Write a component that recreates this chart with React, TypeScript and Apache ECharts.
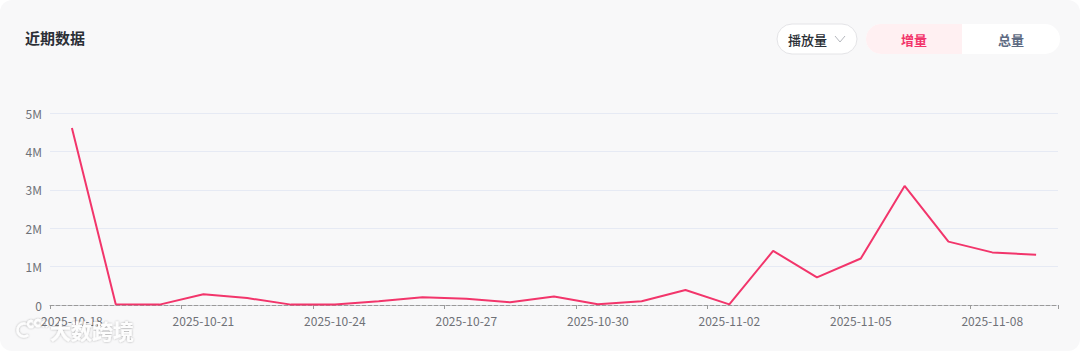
import React, { useEffect, useRef } from "react";
import * as echarts from "echarts";

const categories = [
  "2025-10-18", "2025-10-19", "2025-10-20", "2025-10-21", "2025-10-22", "2025-10-23",
  "2025-10-24", "2025-10-25", "2025-10-26", "2025-10-27", "2025-10-28", "2025-10-29",
  "2025-10-30", "2025-10-31", "2025-11-01", "2025-11-02", "2025-11-03", "2025-11-04",
  "2025-11-05", "2025-11-06", "2025-11-07", "2025-11-08", "2025-11-09",
];
const playIncrement = [
  4610000, 20000, 10000, 280000, 180000, 10000,
  10000, 100000, 200000, 160000, 70000, 220000,
  20000, 100000, 390000, 15000, 1410000, 720000,
  1210000, 3100000, 1650000, 1370000, 1310000,
];
const yTicks = { min: 0, max: 5000000, interval: 1000000 };
const title = "近期数据";
const metricLabel = "播放量";
const toggleLabels = ["增量", "总量"];
const watermark = "大数跨境";

const FONT = "'PingFang SC','Noto Sans CJK SC','Noto Sans',sans-serif";

const wmStroke = {
  stroke: "rgba(255,255,255,0.95)",
  lineWidth: 2.4,
  fill: null as any,
  shadowColor: "rgba(0,0,0,0.35)",
  shadowBlur: 2,
};

export default function App() {
  const ref = useRef<HTMLDivElement>(null);
  useEffect(() => {
    if (!ref.current) return;
    const chart = echarts.init(ref.current, undefined, { renderer: "svg" });
    chart.setOption({
      animation: false,
      backgroundColor: "#ffffff",
      textStyle: { fontFamily: FONT },
      grid: { left: 50, right: 22, top: 113, bottom: 46 },
      xAxis: {
        type: "category",
        data: categories,
        boundaryGap: true,
        axisLine: { lineStyle: { color: "#9a9a9a", type: "dashed", width: 1 } },
        axisTick: { show: true, interval: 2, length: 4, lineStyle: { color: "#9a9a9a" } },
        axisLabel: { interval: 2, color: "#6f7177", fontSize: 12, margin: 9, fontFamily: FONT },
        splitLine: { show: false },
      },
      yAxis: {
        type: "value",
        min: yTicks.min,
        max: yTicks.max,
        interval: yTicks.interval,
        axisLine: { show: false },
        axisTick: { show: false },
        axisLabel: {
          color: "#6f7177",
          fontSize: 12,
          margin: 8,
          fontFamily: FONT,
          formatter: (v: number) => (v === 0 ? "0" : v / 1000000 + "M"),
        },
        splitLine: { lineStyle: { color: "#e6eaf4", width: 1 } },
      },
      series: [
        {
          type: "line",
          data: playIncrement,
          symbol: "none",
          lineStyle: { color: "#f2356b", width: 2 },
          itemStyle: { color: "#f2356b" },
          z: 3,
        },
      ],
      graphic: [
        {
          type: "rect",
          z: -10,
          silent: true,
          shape: { x: 0, y: 0, width: 1080, height: 351, r: 12 },
          style: { fill: "#f8f8f9" },
        },
        {
          type: "text",
          left: 25,
          top: 30,
          style: { text: title, fill: "#2b2f36", font: `600 15px ${FONT}` },
        },
        {
          type: "rect",
          shape: { x: 777, y: 24, width: 80, height: 30, r: 15 },
          style: { fill: "#ffffff", stroke: "#e4e4e7", lineWidth: 1 },
        },
        {
          type: "text",
          x: 788,
          y: 39,
          style: { text: metricLabel, fill: "#2b2f36", font: `500 13px ${FONT}`, verticalAlign: "middle" },
        },
        {
          type: "polyline",
          shape: { points: [[835, 36], [840, 42], [845, 36]] },
          style: { stroke: "#b5b8be", lineWidth: 1, fill: null },
        },
        {
          type: "rect",
          shape: { x: 866, y: 24, width: 194, height: 30, r: 15 },
          style: { fill: "#ffffff" },
        },
        {
          type: "rect",
          shape: { x: 866, y: 24, width: 96, height: 30, r: [15, 0, 0, 15] },
          style: { fill: "#fff0f2" },
        },
        {
          type: "text",
          x: 914,
          y: 39,
          style: { text: toggleLabels[0], fill: "#f2356b", font: `600 13px ${FONT}`, align: "center", verticalAlign: "middle" },
        },
        {
          type: "text",
          x: 1011,
          y: 39,
          style: { text: toggleLabels[1], fill: "#5d6a82", font: `600 13px ${FONT}`, align: "center", verticalAlign: "middle" },
        },
        // watermark logo
        {
          type: "group",
          z: 20,
          silent: true,
          children: [
            { type: "line", shape: { x1: 13, y1: 323, x2: 13, y2: 337 }, style: wmStroke },
            { type: "arc", shape: { cx: 24, cy: 330, r: 6.5, startAngle: 0.9, endAngle: 5.4 }, style: wmStroke },
            { type: "circle", shape: { cx: 31, cy: 324, r: 3 }, style: wmStroke },
            { type: "circle", shape: { cx: 38, cy: 323, r: 3 }, style: wmStroke },
            { type: "arc", shape: { cx: 45, cy: 324, r: 2.6, startAngle: 2.0, endAngle: 7.5 }, style: wmStroke },
          ],
        },
        {
          type: "text",
          x: 50,
          y: 319,
          z: 20,
          silent: true,
          style: {
            text: watermark,
            fill: "rgba(255,255,255,0.95)",
            font: `700 21px ${FONT}`,
            textShadowColor: "rgba(0,0,0,0.35)",
            textShadowBlur: 2,
          },
        },
      ],
    });
    return () => chart.dispose();
  }, []);
  return (
    <div
      ref={ref}
      style={{ position: "fixed", left: 0, top: 0, width: 1080, height: 351 }}
    />
  );
}
